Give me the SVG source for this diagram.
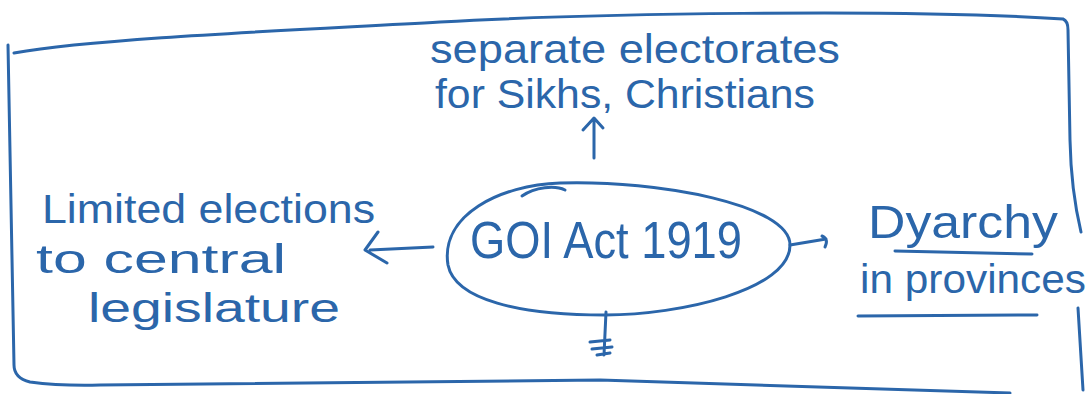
<svg xmlns="http://www.w3.org/2000/svg" width="1091" height="394" viewBox="0 0 1091 394">
<style>
.ink{fill:none;stroke:#2b66aa;stroke-width:3;stroke-linecap:round;stroke-linejoin:round}
.t{font-family:"Liberation Sans","DejaVu Sans",sans-serif;fill:#2b66aa;font-size:40px}
.big{font-size:52px}
.mid{font-size:46px}
</style>
<rect width="1091" height="394" fill="#ffffff"/>
<g id="frame">
<path class="ink" d="M 14 53 C 100 38, 300 30, 440 22 S 900 8, 1063 19 Q 1068 21 1068 30 L 1070 140 Q 1071 190 1081 232"/>
<path class="ink" d="M 8 45 L 14 365 Q 14 378 30 382 Q 60 386 100 385 L 600 380 L 1010 393"/>
<path class="ink" d="M 1078 308 L 1083 390"/>
</g>
<g id="connectors">
<path class="ink" d="M 594 158 L 594 119 M 583 130 L 594 118 L 603 128"/>
<path class="ink" d="M 433 247 L 370 250 M 378 232 L 365 250 L 387 263"/>
<path class="ink" d="M 790 245 L 826 239 M 822 236 Q 829 239 825 247"/>
<path class="ink" d="M 606 312 L 604 355 M 590 342 L 610 340 M 592 349 L 612 347 M 597 355 L 610 353"/>
</g>
<g id="node-center">
<path class="ink" d="M 448 265 C 440 215, 500 185, 560 183 C 660 180, 790 205, 790 245 C 790 290, 680 315, 605 315 C 520 315, 455 300, 448 265 Z"/>
<path class="ink" d="M 522 196 C 535 187, 555 185, 565 190"/>
<text class="t big" x="470" y="258" textLength="272" lengthAdjust="spacingAndGlyphs">GOI Act 1919</text>
</g>
<g id="node-top">
<text class="t" x="430" y="63" textLength="410" lengthAdjust="spacingAndGlyphs">separate electorates</text>
<text class="t" x="435" y="108" textLength="380" lengthAdjust="spacingAndGlyphs">for Sikhs, Christians</text>
</g>
<g id="node-left">
<text class="t" x="42" y="223" textLength="333" lengthAdjust="spacingAndGlyphs">Limited elections</text>
<text class="t" x="36" y="273" textLength="250" lengthAdjust="spacingAndGlyphs">to central</text>
<text class="t" x="88" y="322" textLength="252" lengthAdjust="spacingAndGlyphs">legislature</text>
</g>
<g id="node-right">
<text class="t mid" x="868" y="238" textLength="190" lengthAdjust="spacingAndGlyphs">Dyarchy</text>
<path class="ink" d="M 895 251 L 1032 254"/>
<text class="t" x="860" y="293" textLength="226" lengthAdjust="spacingAndGlyphs">in provinces</text>
<path class="ink" d="M 858 316 L 1037 315"/>
</g>
</svg>
